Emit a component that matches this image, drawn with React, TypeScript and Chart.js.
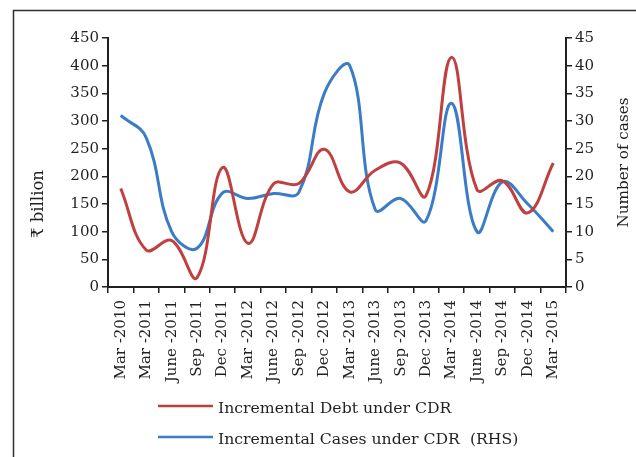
import React, { useEffect, useRef } from 'react';
import { Chart, registerables } from 'chart.js';

Chart.register(...registerables);

const categories = [
  'Mar -2010', 'Mar -2011', 'June -2011', 'Sep -2011', 'Dec -2011', 'Mar -2012',
  'June -2012', 'Sep -2012', 'Dec -2012', 'Mar -2013', 'June -2013', 'Sep -2013',
  'Dec -2013', 'Mar -2014', 'June -2014', 'Sep -2014', 'Dec -2014', 'Mar -2015',
];
const debtValues = [178, 67, 84, 17, 216, 79, 186, 187, 249, 172, 211, 224, 165, 415, 176, 192, 134, 224];
const caseValues = [31, 27, 10, 7, 17, 16, 16.9, 17.1, 35, 40, 14, 16, 12, 33.2, 10, 19, 15, 10];
const seriesNames = ['Incremental Debt under CDR', 'Incremental Cases under CDR  (RHS)'];
const leftTitle = '\u20B9 billion';
const rightTitle = 'Number of cases';

const FONT_FAMILY = "'DejaVu Serif', serif";
const TEXT = '#231f20';
const AXIS = '#231f20';
const RED = '#c0403f';
const BLUE = '#3a7cc6';

const decorPlugin = {
  id: 'decor',
  beforeDraw(chart: any) {
    const ctx = chart.ctx;
    ctx.save();
    ctx.strokeStyle = '#2f2f2f';
    ctx.lineWidth = 1.5;
    ctx.beginPath();
    ctx.moveTo(13.5, 457);
    ctx.lineTo(13.5, 10.5);
    ctx.lineTo(636, 10.5);
    ctx.stroke();
    ctx.restore();
  },
  afterDraw(chart: any) {
    const ctx = chart.ctx;
    const { top, bottom } = chart.chartArea;
    ctx.save();
    ctx.fillStyle = TEXT;
    ctx.textAlign = 'center';
    ctx.textBaseline = 'middle';
    ctx.font = `16.5px ${FONT_FAMILY}`;
    ctx.save();
    ctx.translate(39, 204);
    ctx.rotate(-Math.PI / 2);
    ctx.fillText(leftTitle, 0, 0);
    ctx.restore();
    ctx.font = `15.2px ${FONT_FAMILY}`;
    ctx.save();
    ctx.translate(624, (top + bottom) / 2);
    ctx.rotate(-Math.PI / 2);
    ctx.fillText(rightTitle, 0, 0);
    ctx.restore();
    ctx.font = `15.7px ${FONT_FAMILY}`;
    chart.data.datasets.forEach((ds: any, i: number) => {
      const y = 406 + i * 31;
      ctx.strokeStyle = ds.borderColor;
      ctx.lineWidth = 2.5;
      ctx.beginPath();
      ctx.moveTo(158, y);
      ctx.lineTo(213, y);
      ctx.stroke();
      ctx.textAlign = 'left';
      ctx.textBaseline = 'alphabetic';
      ctx.fillStyle = TEXT;
      ctx.fillText(ds.label, 218, y + 6.5);
    });
    ctx.restore();
  },
};

export default function App() {
  const ref = useRef<HTMLCanvasElement>(null);
  useEffect(() => {
    if (!ref.current) return;
    const font = { family: FONT_FAMILY, size: 15 };
    const chart = new Chart(ref.current, {
      type: 'line',
      data: {
        labels: categories,
        datasets: [
          { label: seriesNames[0], data: debtValues, borderColor: RED, backgroundColor: RED, yAxisID: 'y' },
          { label: seriesNames[1], data: caseValues, borderColor: BLUE, backgroundColor: BLUE, yAxisID: 'y1' },
        ],
      },
      options: {
        responsive: false,
        animation: false,
        layout: { padding: { top: 38, left: 0, right: 0, bottom: 0 } },
        plugins: { legend: { display: false }, tooltip: { enabled: false } },
        elements: {
          point: { radius: 0 },
          line: { tension: 0.4, borderWidth: 3, fill: false },
        },
        scales: {
          x: {
            type: 'category',
            offset: true,
            grid: { offset: true, drawOnChartArea: false, tickLength: 6, color: AXIS, lineWidth: 1.5 },
            border: { color: AXIS, width: 2 },
            ticks: { minRotation: 90, maxRotation: 90, autoSkip: false, padding: 7, font, color: TEXT },
            afterFit: (s: any) => { s.height = 170; },
          },
          y: {
            position: 'left',
            min: 0,
            max: 450,
            ticks: { stepSize: 50, padding: 3, font, color: TEXT },
            grid: { drawOnChartArea: false, tickLength: 6, color: AXIS, lineWidth: 1.5 },
            border: { color: AXIS, width: 2 },
            afterFit: (s: any) => { s.width = 108; },
          },
          y1: {
            position: 'right',
            min: 0,
            max: 45,
            ticks: { stepSize: 5, padding: 3, font, color: TEXT },
            grid: { drawOnChartArea: false, tickLength: 6, color: AXIS, lineWidth: 1.5 },
            border: { color: AXIS, width: 2 },
            afterFit: (s: any) => { s.width = 70; },
          },
        },
      } as any,
      plugins: [decorPlugin],
    });
    return () => chart.destroy();
  }, []);
  return (
    <div style={{ position: 'absolute', left: 0, top: 0, width: 636, height: 457, background: '#fff' }}>
      <canvas ref={ref} width={636} height={457} style={{ display: 'block' }} />
    </div>
  );
}
